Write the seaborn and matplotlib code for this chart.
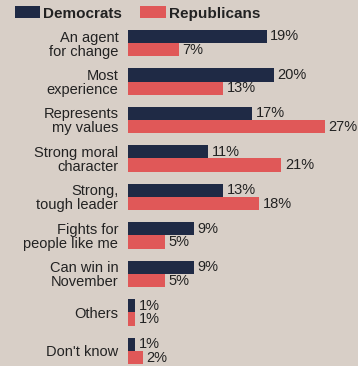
import matplotlib
matplotlib.use("Agg")
import matplotlib.pyplot as plt
import seaborn as sns
import pandas as pd

categories = ["An agent\nfor change", "Most\nexperience", "Represents\nmy values",
              "Strong moral\ncharacter", "Strong,\ntough leader", "Fights for\npeople like me",
              "Can win in\nNovember", "Others", "Don't know"]
democrats = [19, 20, 17, 11, 13, 9, 9, 1, 1]
republicans = [7, 13, 27, 21, 18, 5, 5, 1, 2]
series = ["Democrats", "Republicans"]
colors = ["#1f2a45", "#e05858"]

rows = []
for c, d, r in zip(categories, democrats, republicans):
    rows.append({"cat": c, "party": series[0], "val": d})
    rows.append({"cat": c, "party": series[1], "val": r})
df = pd.DataFrame(rows)

sns.set_theme(style="white")
plt.rcParams['font.family'] = ['Liberation Sans', 'DejaVu Sans']

bg = "#d8cfc7"
fig = plt.figure(figsize=(3.58, 3.66), dpi=100, facecolor=bg)
ax = fig.add_axes([128/358, 0, 230/358, 1])
ax.set_facecolor(bg)

sns.barplot(data=df, y="cat", x="val", hue="party", hue_order=series,
            palette=colors, orient="h", width=0.68, ax=ax, legend=False,
            saturation=1, errorbar=None, linewidth=0)

for cont in ax.containers:
    ax.bar_label(cont, fmt="%d%%", padding=2.5, fontsize=10.5, color="#222222")

ax.set_xlim(0, 31.5)
ax.set_ylim(8.39, -1.117)
ax.set_xlabel("")
ax.set_ylabel("")
ax.set_xticks([])
ax.set_yticks(range(len(categories)))
ax.set_yticklabels(categories, fontsize=10.5, color="#222222", linespacing=1.0)
ax.tick_params(axis="y", length=0, pad=7)
for s in ax.spines.values():
    s.set_visible(False)

from matplotlib.patches import Patch
handles = [Patch(facecolor=colors[0], linewidth=0), Patch(facecolor=colors[1], linewidth=0)]
leg = fig.legend(handles, series, loc="center left", bbox_to_anchor=(0.0, 0.963),
                 ncol=2, frameon=False, handlelength=1.65, handleheight=0.8,
                 columnspacing=1.2, handletextpad=0.2, borderaxespad=0, borderpad=0,
                 prop={"weight": "bold", "size": 11})
leg.set_bbox_to_anchor((15/358, 0.963), transform=fig.transFigure)
for t in leg.get_texts():
    t.set_color("#222222")

fig.savefig("out.png", dpi=100, facecolor=bg)
